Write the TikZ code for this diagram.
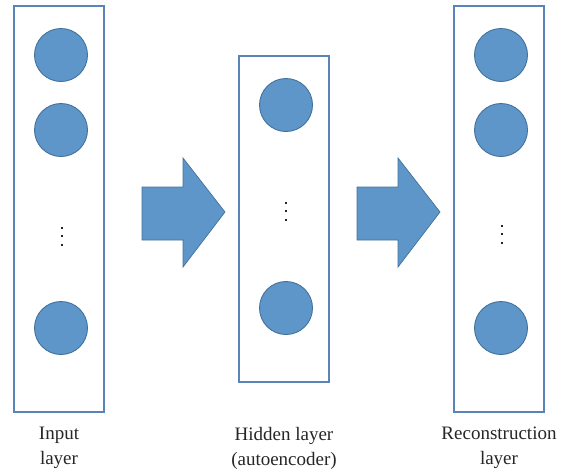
\documentclass[tikz,border=0pt]{standalone}
\usepackage{fontspec}
\setmainfont{Liberation Serif}
\definecolor{cfill}{HTML}{5E96CA}
\definecolor{cline}{HTML}{41719C}
\definecolor{bline}{HTML}{5A83B8}
\begin{document}
\begin{tikzpicture}[x=1pt,y=-1pt,
  layerbox/.style={draw=bline,line width=1.3pt,fill=white},
  neuron/.style={circle,draw=cline,line width=0.9pt,fill=cfill,minimum size=53pt,inner sep=0pt},
  dot/.style={rectangle,fill=black!85,minimum size=2pt,inner sep=0pt},
  bigarrow/.style={draw=cline,line width=0.7pt,fill=cfill},
  lbl/.style={align=center,font=\fontsize{19}{25}\selectfont,text=black!85}]
\useasboundingbox (0,0) rectangle (575,472);
% boxes
\node[layerbox,minimum width=90pt,minimum height=406pt,inner sep=0pt] (inbox) at (59,209) {};
\node[layerbox,minimum width=90pt,minimum height=326pt,inner sep=0pt] (hidbox) at (284,219) {};
\node[layerbox,minimum width=90pt,minimum height=406pt,inner sep=0pt] (outbox) at (499,209) {};
% neurons
\node[neuron] (i1) at (61,55) {};
\node[neuron] (i2) at (61,130) {};
\node[neuron] (i3) at (61,328) {};
\node[dot] (id1) at (61.5,227.5) {};
\node[dot] (id2) at (61.5,236) {};
\node[dot] (id3) at (61.5,244.5) {};
\node[neuron] (h1) at (286,105) {};
\node[neuron] (h2) at (286,308) {};
\node[dot] (hd1) at (286,202.5) {};
\node[dot] (hd2) at (286,211) {};
\node[dot] (hd3) at (286,219.5) {};
\node[neuron] (o1) at (501,55) {};
\node[neuron] (o2) at (501,130) {};
\node[neuron] (o3) at (501,328) {};
\node[dot] (od1) at (501.5,225.5) {};
\node[dot] (od2) at (501.5,234) {};
\node[dot] (od3) at (501.5,242.5) {};
% arrows
\draw[bigarrow] (142,187) -- (183,187) -- (183,158) -- (225,212) -- (183,267) -- (183,240) -- (142,240) -- cycle;
\draw[bigarrow] (357,187) -- (398,187) -- (398,158) -- (440,212) -- (398,267) -- (398,240) -- (357,240) -- cycle;
% labels
\node[lbl] (lin) at (59,448) {Input\\layer};
\node[lbl] (lhid) at (284,448) {Hidden layer\\(autoencoder)};
\node[lbl] (lout) at (499,448) {Reconstruction\\layer};
\end{tikzpicture}
\end{document}
